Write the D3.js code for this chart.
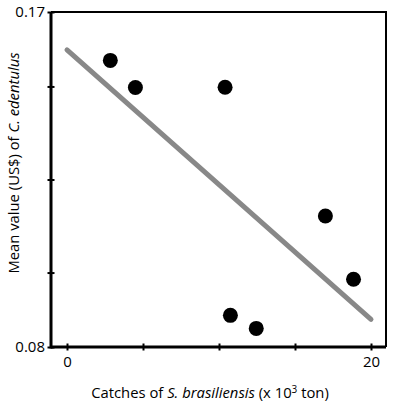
<!DOCTYPE html>
<html>
<head>
<meta charset="utf-8">
<script src="https://cdn.jsdelivr.net/npm/d3@7"></script>
<style>
  body { margin: 0; background: #fff; }
  text { font-family: "Open Sans", "Noto Sans", sans-serif; fill: #000; }
</style>
</head>
<body>
<div id="chart"></div>
<script>
// catches (x 10^3 ton) and mean value (US$)
const catches = [2.85, 4.5, 10.4, 10.75, 12.45, 17.0, 18.85];
const meanValue = [0.157, 0.1497, 0.1498, 0.0885, 0.085, 0.1152, 0.0982];
// fitted line end points
const fitX = [0, 20];
const fitY = [0.1598, 0.0874];
const xTicks = [0, 5, 10, 15, 20];
const xTickLabels = ['0', '', '', '', '20'];
const yTicks = [0.08, 0.10, 0.125, 0.15, 0.17];
const yTickLabels = ['0.08', '', '', '', '0.17'];

const width = 395, height = 411;
const m = {left: 51, right: 386, top: 12, bottom: 347};

const x = d3.scaleLinear().domain([0, 20]).range([67, 371]);
const y = d3.scaleLinear().domain([0.08, 0.17]).range([m.bottom, m.top]);

const svg = d3.select('#chart').append('svg')
  .attr('width', width)
  .attr('height', height);

// frame top/right
svg.append('path')
  .attr('d', `M${m.left},${m.top}H${m.right}V${m.bottom}`)
  .attr('fill', 'none')
  .attr('stroke', '#000')
  .attr('stroke-width', 2);

// axes
const xAxis = d3.axisBottom(x).tickValues(xTicks).tickSizeInner(7).tickSizeOuter(0)
  .tickFormat((d, i) => xTickLabels[i]);
const gx = svg.append('g').attr('transform', `translate(0,${m.bottom})`).call(xAxis);
gx.select('.domain').remove();
gx.append('line').attr('x1', m.left).attr('x2', m.right).attr('stroke', '#000').attr('stroke-width', 3);
gx.selectAll('.tick line').attr('y1', -3.5).attr('y2', 3.5).attr('stroke-width', 2);
gx.selectAll('.tick text').attr('font-size', 15).attr('y', 9).attr('dy', '0.71em')
  .style('font-family', '"Open Sans", sans-serif');

const yAxis = d3.axisLeft(y).tickValues(yTicks).tickSizeInner(7).tickSizeOuter(0)
  .tickFormat((d, i) => yTickLabels[i]);
const gy = svg.append('g').attr('transform', `translate(${m.left},0)`).call(yAxis);
gy.select('.domain').remove();
gy.append('line').attr('y1', m.top).attr('y2', m.bottom + 1.5).attr('stroke', '#000').attr('stroke-width', 3);
gy.selectAll('.tick line').attr('x1', -3.5).attr('x2', 3.5).attr('stroke-width', 2);
gy.selectAll('.tick text').attr('font-size', 15).attr('x', -6)
  .style('font-family', '"Open Sans", sans-serif');

// fitted line
svg.append('line')
  .attr('x1', x(fitX[0])).attr('y1', y(fitY[0]))
  .attr('x2', x(fitX[1])).attr('y2', y(fitY[1]))
  .attr('stroke', '#888')
  .attr('stroke-width', 5)
  .attr('stroke-linecap', 'round');

// points
svg.selectAll('.dot')
  .data(catches.map((c, i) => ({c, v: meanValue[i]})))
  .enter().append('circle')
  .attr('class', 'dot')
  .attr('cx', d => x(d.c))
  .attr('cy', d => y(d.v))
  .attr('r', 7.5)
  .attr('fill', '#000');

// axis titles
const xt = svg.append('text')
  .attr('x', 210)
  .attr('y', 398)
  .attr('text-anchor', 'middle')
  .attr('font-size', 14.8);
xt.append('tspan').text('Catches of ');
xt.append('tspan').attr('font-style', 'italic').text('S. brasiliensis');
xt.append('tspan').text(' (x 10');
xt.append('tspan').attr('font-size', 10).attr('dy', -5).text('3');
xt.append('tspan').attr('dy', 5).text(' ton)');

const yt = svg.append('text')
  .attr('transform', `translate(19,163) rotate(-90)`)
  .attr('text-anchor', 'middle')
  .attr('font-size', 14.8);
yt.append('tspan').text('Mean value (US$) of ');
yt.append('tspan').attr('font-style', 'italic').text('C. edentulus');
</script>
</body>
</html>
